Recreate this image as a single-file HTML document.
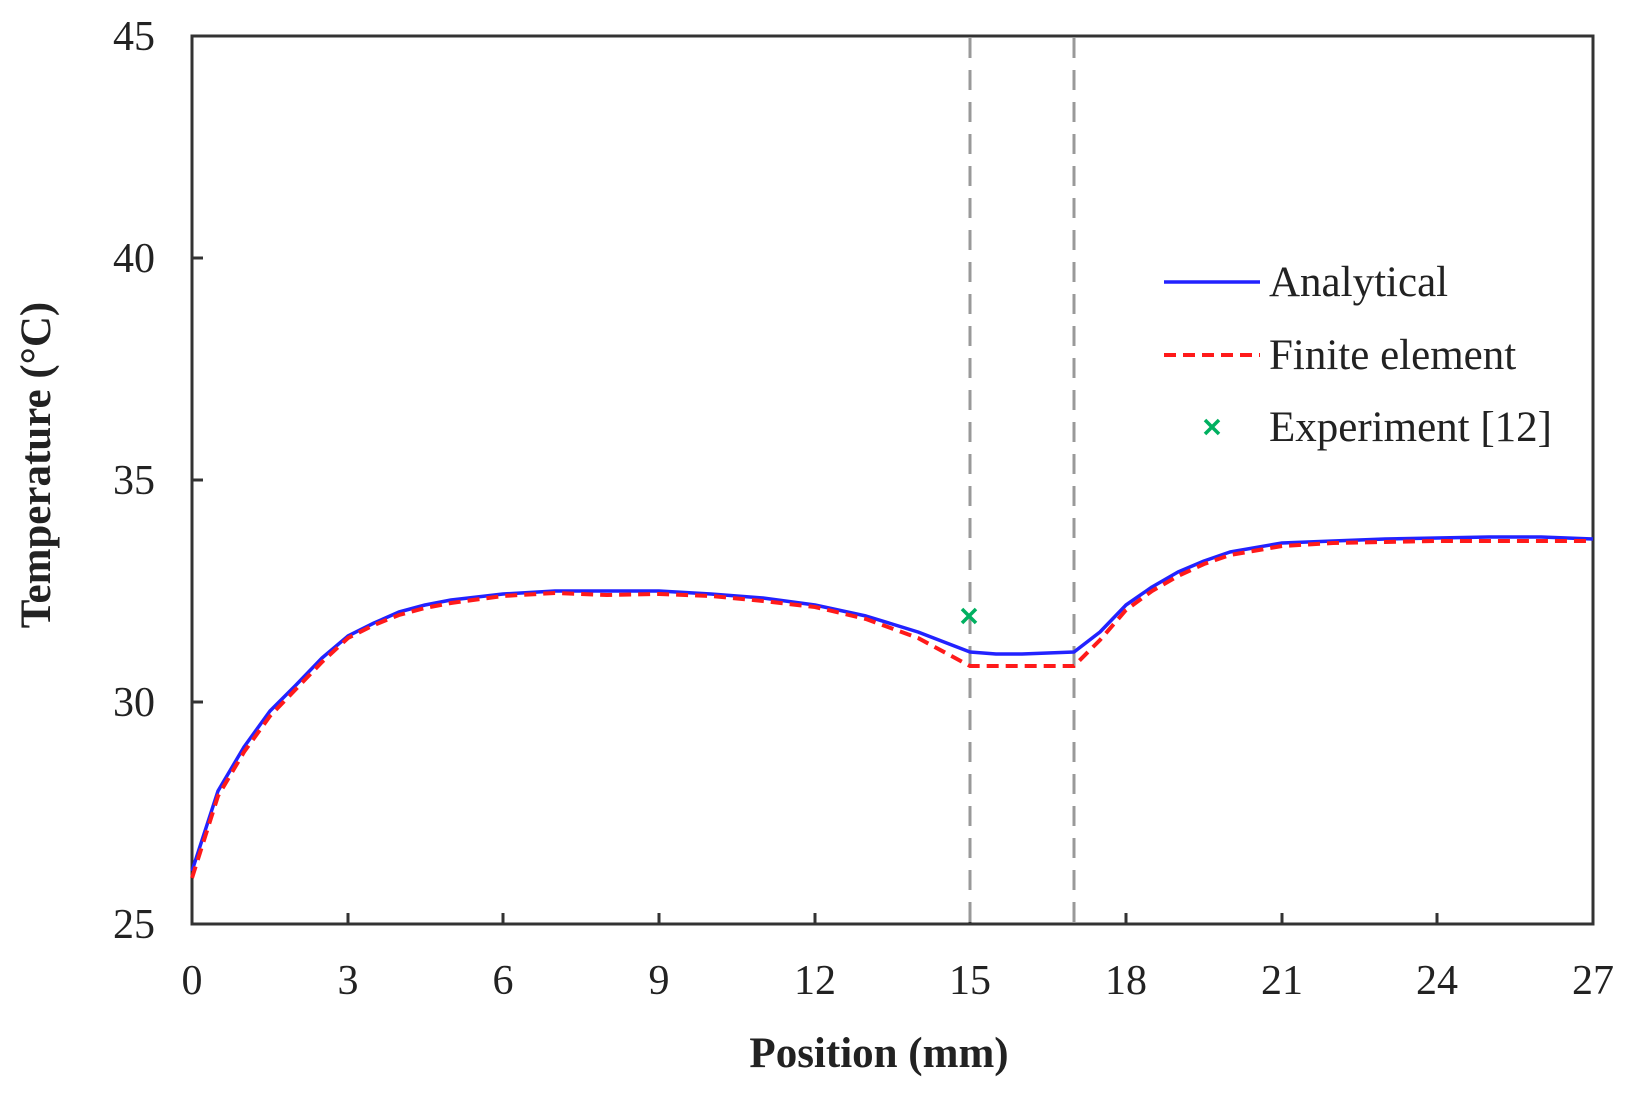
<!DOCTYPE html>
<html><head><meta charset="utf-8"><style>body{margin:0;background:#fff}svg{display:block}</style></head>
<body>
<svg width="1627" height="1093" viewBox="0 0 1627 1093" xmlns="http://www.w3.org/2000/svg" font-family="Liberation Serif, serif">
<rect width="1627" height="1093" fill="#fff"/>
<rect x="192" y="36" width="1401" height="888" fill="none" stroke="#333" stroke-width="3"/>
<g stroke="#333" stroke-width="3">
<line x1="192" y1="258" x2="203" y2="258"/><line x1="192" y1="480" x2="203" y2="480"/><line x1="192" y1="702" x2="203" y2="702"/>
<line x1="348" y1="924" x2="348" y2="913"/><line x1="503" y1="924" x2="503" y2="913"/><line x1="659" y1="924" x2="659" y2="913"/><line x1="815" y1="924" x2="815" y2="913"/><line x1="970" y1="924" x2="970" y2="913"/><line x1="1126" y1="924" x2="1126" y2="913"/><line x1="1282" y1="924" x2="1282" y2="913"/><line x1="1437" y1="924" x2="1437" y2="913"/>
</g>
<g font-size="42" fill="#222" text-anchor="end">
<text x="155" y="50">45</text><text x="155" y="272">40</text><text x="155" y="494">35</text><text x="155" y="716">30</text><text x="155" y="938">25</text>
</g>
<g font-size="42" fill="#222" text-anchor="middle">
<text x="192" y="994">0</text><text x="348" y="994">3</text><text x="503" y="994">6</text><text x="659" y="994">9</text><text x="815" y="994">12</text><text x="970" y="994">15</text><text x="1126" y="994">18</text><text x="1282" y="994">21</text><text x="1437" y="994">24</text><text x="1593" y="994">27</text>
</g>
<text x="879" y="1067" font-size="43" font-weight="bold" text-anchor="middle" fill="#222">Position (mm)</text>
<text transform="translate(50,465) rotate(-90)" font-size="43" font-weight="bold" text-anchor="middle" fill="#222">Temperature (°C)</text>
<g stroke="#999" stroke-width="3" stroke-dasharray="20,12">
<line x1="970" y1="38" x2="970" y2="922"/><line x1="1074" y1="38" x2="1074" y2="922"/>
</g>
<polyline fill="none" stroke="#2222ff" stroke-width="3.5" stroke-linejoin="round" points="192,871 218,791 244,747 270,711 296,685 322,658 348,636 374,623 399,612 425,605 451,600 503,594 555,591 607,591 659,591 711,594 763,598 815,605 866,616 918,632 970,652 996,654 1022,654 1074,652 1100,632 1126,605 1152,587 1178,572 1204,561 1230,552 1282,543 1333,541 1385,539 1437,538 1489,537 1541,537 1593,539"/>
<polyline fill="none" stroke="#ff1a1a" stroke-width="4" stroke-dasharray="12,7" points="192,878 218,796 244,752 270,716 296,689 322,662 348,638 374,625 399,615 425,608 451,603 503,596 555,593 607,595 659,594 711,596 763,601 815,607 866,619 918,638 970,666 1022,666 1074,666 1100,640 1126,610 1152,591 1178,576 1204,564 1230,555 1282,546 1333,543 1385,542 1437,541 1489,541 1541,541 1593,541"/>
<g stroke="#00b060" stroke-width="3.5"><line x1="962" y1="609" x2="976" y2="623"/><line x1="976" y1="609" x2="962" y2="623"/></g>
<line x1="1164" y1="282" x2="1260" y2="282" stroke="#2222ff" stroke-width="3.5"/>
<line x1="1164" y1="355" x2="1260" y2="355" stroke="#ff1a1a" stroke-width="4" stroke-dasharray="12,7"/>
<g stroke="#00b060" stroke-width="3.5"><line x1="1205" y1="420" x2="1219" y2="434"/><line x1="1219" y1="420" x2="1205" y2="434"/></g>
<g font-size="43" fill="#222">
<text x="1269" y="296">Analytical</text><text x="1269" y="369">Finite element</text><text x="1269" y="441">Experiment [12]</text>
</g>
</svg>
</body></html>
